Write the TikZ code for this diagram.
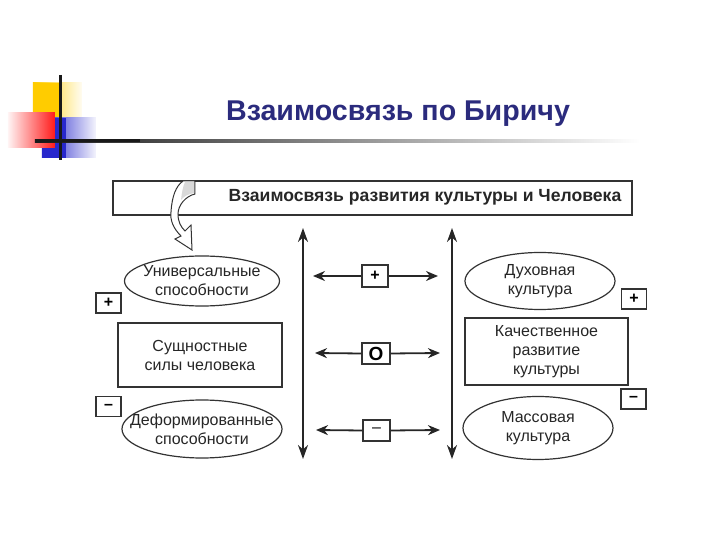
\documentclass[tikz,border=0pt]{standalone}
\usepackage{fontspec}
\setmainfont{Liberation Sans}
\usetikzlibrary{shapes.geometric,arrows.meta}
\definecolor{titleblue}{HTML}{2B2B7D}
\definecolor{logoyellow}{HTML}{FFCC00}
\definecolor{logored}{HTML}{FF1A1A}
\definecolor{logoblue}{HTML}{2828CC}
\tikzset{
  txt/.style={font=\fontsize{8}{9.5}\selectfont, align=center, text=black!85, inner sep=0pt},
  ovalline/.style={draw=black!80, line width=0.6pt, fill=white},
  rbox/.style={txt, rectangle, draw=black!80, line width=0.6pt, inner sep=0pt, fill=white},
  sbox/.style={rectangle, draw=black!80, line width=0.6pt, inner sep=0pt, fill=white,
     minimum width=12.5pt, minimum height=10pt, font=\fontsize{8}{8}\selectfont\bfseries},
  vconn/.style={{Stealth[length=7pt,width=5pt]}-{Stealth[length=7pt,width=5pt]}, line width=1.1pt, draw=black!85},
  hconn/.style={-{Stealth[length=6pt,width=5pt]}, line width=0.9pt, draw=black!85},
}
\begin{document}
\begin{tikzpicture}[x=0.5pt,y=-0.5pt]
\useasboundingbox (0,0) rectangle (720,540);
% logo
\shade[left color=logoyellow, right color=logoyellow!5] (33,83) rectangle (82,128);
\fill[logoyellow] (33,83) rectangle (60,128);
\shade[left color=logoblue, right color=logoblue!5] (42,118) rectangle (96,158);
\fill[logoblue] (42,118) rectangle (66,158);
\shade[left color=logored!5, right color=logored] (8,113) rectangle (55,148);
\shade[left color=black!90, right color=white] (35,139.5) rectangle (640,142.5);
\fill[black!90] (35,139.5) rectangle (140,142.5);
\draw[line width=1.5pt, black!90] (61,75) -- (61,160);
% title
\node[font=\fontsize{14.3}{16}\selectfont\bfseries, text=titleblue] (title) at (398,114) {Взаимосвязь по Биричу};
% header box
\node[rectangle, draw=black!80, line width=0.6pt, minimum width=259.5pt, minimum height=17pt, inner sep=0pt] (header) at (372.5,198) {};
\node[font=\fontsize{8.8}{10}\selectfont\bfseries, text=black!85] (headtxt) at (425,197) {Взаимосвязь развития культуры и Человека};
% curved hollow arrow
\filldraw[fill=white, draw=black!80, line width=0.5pt]
  (183,181) -- (195,181) -- (195,194)
  .. controls (186,196) and (178,205) .. (178,214)
  .. controls (178,222) and (181,227) .. (185,231)
  -- (191,225) -- (192,250) -- (175,239) -- (181,236)
  .. controls (173,228) and (170,220) .. (171,212)
  .. controls (172,196) and (176,186) .. (183,181) -- cycle;
\fill[black!15] (185,182) -- (194,182) -- (194,193) .. controls (188,194) and (183,197) .. (181,200) .. controls (182,192) and (183,186) .. (185,182);
% left column
\draw[ovalline] (202,281) ellipse [x radius=77.5, y radius=25];
\node[txt] (univ) at (202,281) {Универсальные\\способности};
\node[rbox, minimum width=82pt, minimum height=32pt] (ess) at (200,355) {Сущностные\\силы человека};
\draw[ovalline] (202,429) ellipse [x radius=80, y radius=29];
\node[txt] (deform) at (202,429) {Деформированные\\способности};
\node[sbox] (lplus) at (108.5,303) {+};
\node[sbox] (lminus) at (108.5,406.5) {–};
% right column
\draw[ovalline] (540,281) ellipse [x radius=75, y radius=28.5];
\node[txt] (spirit) at (540,281) {Духовная\\культура};
\node[rbox, minimum width=81.5pt, minimum height=33.5pt] (qual) at (546.5,351.5) {Качественное\\развитие\\культуры};
\draw[ovalline] (538,428) ellipse [x radius=75, y radius=31.5];
\node[txt] (mass) at (538,428) {Массовая\\культура};
\node[sbox] (rplus) at (634,299) {+};
\node[sbox] (rminus) at (633.5,399) {–};
% middle boxes
\node[sbox, minimum width=13pt, minimum height=11pt] (mplus) at (375,276) {+};
\node[sbox, minimum width=14pt, minimum height=10.5pt, font=\fontsize{9.5}{10}\selectfont\bfseries] (mzero) at (376,353.5) {O};
\node[sbox, minimum width=13.5pt, minimum height=10.5pt, font=\fontsize{8}{8}\selectfont] (mminus) at (376.5,430.5) {–};
% free ends
\coordinate (lvt) at (303,228); \coordinate (lvb) at (303,459);
\coordinate (rvt) at (452,228); \coordinate (rvb) at (452,459);
\coordinate (pl) at (313,276); \coordinate (pr) at (438,276);
\coordinate (zl) at (315,353); \coordinate (zr) at (440,353);
\coordinate (ml) at (316,430); \coordinate (mr) at (440,430);
% connectors
\draw[vconn] (lvt) -- (lvb);
\draw[vconn] (rvt) -- (rvb);
\draw[hconn] (mplus.west) -- (pl);
\draw[hconn] (mplus.east) -- (pr);
\draw[hconn] (mzero.west) -- (zl);
\draw[hconn] (mzero.east) -- (zr);
\draw[hconn] (mminus.west) -- (ml);
\draw[hconn] (mminus.east) -- (mr);
\end{tikzpicture}
\end{document}
